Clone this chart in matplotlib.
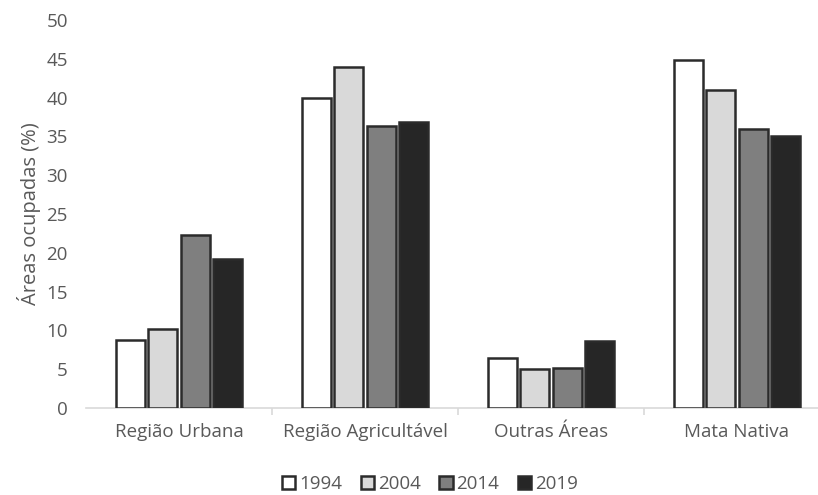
import numpy as np
import matplotlib.pyplot as plt
from matplotlib.patches import Patch

# land use share per region and year
categories = ["Região Urbana", "Região Agricultável", "Outras Áreas", "Mata Nativa"]
years = ["1994", "2004", "2014", "2019"]
v1994 = [8.8, 40.0, 6.5, 44.9]
v2004 = [10.2, 44.0, 5.0, 41.0]
v2014 = [22.3, 36.4, 5.1, 36.0]
v2019 = [19.2, 36.9, 8.6, 35.1]
series = [v1994, v2004, v2014, v2019]
colors = ["#ffffff", "#d9d9d9", "#7f7f7f", "#262626"]

plt.rcParams['font.family'] = ['Open Sans', 'DejaVu Sans']
txt = "#595959"
fs = 13.5

fig = plt.figure(figsize=(8.18, 4.95), dpi=100)
ax = fig.add_axes([86 / 818, 87 / 495, 744 / 818, 388 / 495])

x = np.arange(len(categories))
w = 0.155
step = 0.175
for i, vals in enumerate(series):
    ax.bar(x + (i - 1.5) * step, vals, width=w, color=colors[i],
           edgecolor="#2b2b2b", linewidth=1.8, zorder=3)

ax.set_xlim(-0.5, 3.5)
ax.set_ylim(0, 50)
ax.set_yticks(range(0, 51, 5))
ax.set_xticks(x)
ax.set_xticklabels(categories)
# small separators between the category groups
ax.set_xticks(x[:-1] + 0.5, minor=True)
ax.tick_params(axis='x', which='minor', length=5, color="#d9d9d9", width=1.2)
ax.tick_params(axis='both', which='major', length=0, labelsize=fs, labelcolor=txt)
ax.tick_params(axis='y', pad=13)
ax.tick_params(axis='x', which='major', pad=11)
for s in ["top", "right", "left"]:
    ax.spines[s].set_visible(False)
ax.spines["bottom"].set_color("#d9d9d9")
ax.spines["bottom"].set_linewidth(1.2)
ax.set_ylabel("Áreas ocupadas (%)", fontsize=14.5, color=txt, labelpad=4)

handles = [Patch(facecolor=c, edgecolor="#2b2b2b", linewidth=1.8) for c in colors]
fig.legend(handles, years, loc="center", bbox_to_anchor=(430 / 818, 1 - 484 / 495),
           ncol=4, frameon=False, fontsize=fs, handlelength=0.7, handleheight=0.7,
           handletextpad=0.2, columnspacing=1.0, labelcolor=txt)

fig.savefig("out.png", dpi=100)
